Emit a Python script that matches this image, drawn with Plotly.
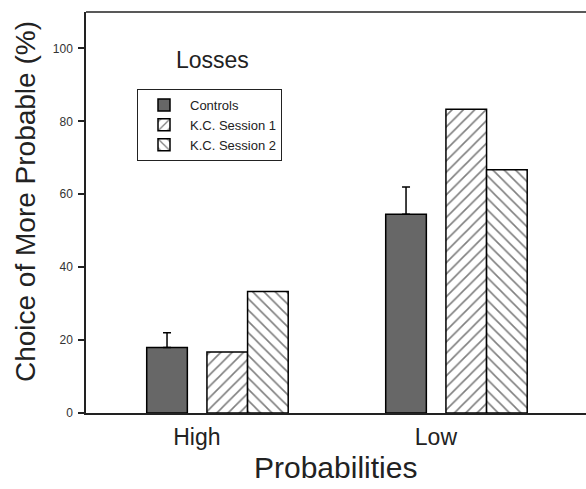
import plotly.graph_objects as go

categories = ["High", "Low"]
controls = [18.0, 54.5]
controls_err = [4.0, 7.5]
kc_session1 = [16.7, 83.3]
kc_session2 = [33.3, 66.7]
y_ticks = [0, 20, 40, 60, 80, 100]

xpos = list(range(len(categories)))
BW = 0.17
FONT = "Liberation Sans, Arial, sans-serif"
TXT = "#222"

fig = go.Figure()
fig.add_trace(go.Bar(
    x=xpos, y=controls, name="Controls", width=BW, offset=-0.21,
    marker=dict(color="#676767", line=dict(color="black", width=1.5)),
    error_y=dict(type="data", symmetric=False, array=controls_err,
                 arrayminus=[0] * len(controls_err), color="black",
                 thickness=1.5, width=4),
))
fig.add_trace(go.Bar(
    x=xpos, y=kc_session1, name="K.C. Session 1", width=BW, offset=0.042,
    marker=dict(color="white", line=dict(color="black", width=1.5),
                pattern=dict(shape="/", fgcolor="black", bgcolor="white",
                             size=8, solidity=0.2)),
))
fig.add_trace(go.Bar(
    x=xpos, y=kc_session2, name="K.C. Session 2", width=BW, offset=0.212,
    marker=dict(color="white", line=dict(color="black", width=1.5),
                pattern=dict(shape="\\", fgcolor="black", bgcolor="white",
                             size=8, solidity=0.2)),
))

fig.add_annotation(text="Losses", x=0.252, y=0.88, xref="paper", yref="paper",
                   showarrow=False, font=dict(size=23, color=TXT, family=FONT),
                   xanchor="center", yanchor="middle")
fig.add_annotation(text="Choice of More Probable (%)", x=-0.122, y=0.526,
                   xref="paper", yref="paper", textangle=-90, showarrow=False,
                   font=dict(size=28, color=TXT, family=FONT),
                   xanchor="center", yanchor="middle")
fig.add_annotation(text="Probabilities", x=0.498, y=-0.137,
                   xref="paper", yref="paper", showarrow=False,
                   font=dict(size=30, color=TXT, family=FONT),
                   xanchor="center", yanchor="middle")

# top frame line (no right border visible in the reference)
fig.add_shape(type="line", xref="paper", yref="paper", x0=0, x1=1, y0=1, y1=1,
              line=dict(color=TXT, width=1.5))

fig.update_layout(
    width=586, height=489,
    margin=dict(l=86, r=0, t=12, b=76),
    plot_bgcolor="white", paper_bgcolor="white",
    font=dict(family=FONT, color=TXT),
    barmode="overlay",
    showlegend=True,
    legend=dict(x=0.102, y=0.808, xanchor="left", yanchor="top",
                bordercolor=TXT, borderwidth=1, bgcolor="white",
                font=dict(size=13, family=FONT, color=TXT),
                tracegroupgap=0, itemwidth=42,
                entrywidth=170, entrywidthmode="pixels"),
    xaxis=dict(range=[-0.464, 1.628], tickvals=xpos, ticktext=categories,
               showline=True, linecolor=TXT, linewidth=1.5, mirror=False,
               ticks="", showgrid=False, zeroline=False, ticklabelstandoff=3,
               tickfont=dict(size=23, family=FONT, color=TXT)),
    yaxis=dict(range=[0, 110], tickvals=y_ticks,
               showline=True, linecolor=TXT, linewidth=1.5, mirror=False,
               ticks="outside", ticklen=6, tickwidth=1.5, tickcolor=TXT,
               showgrid=False, zeroline=False, ticklabelstandoff=3,
               tickfont=dict(size=12, family=FONT, color="#333")),
)

fig.write_html("out.html", config={"displayModeBar": False},
               post_script="document.body.style.margin='0';document.body.style.overflow='hidden';")
